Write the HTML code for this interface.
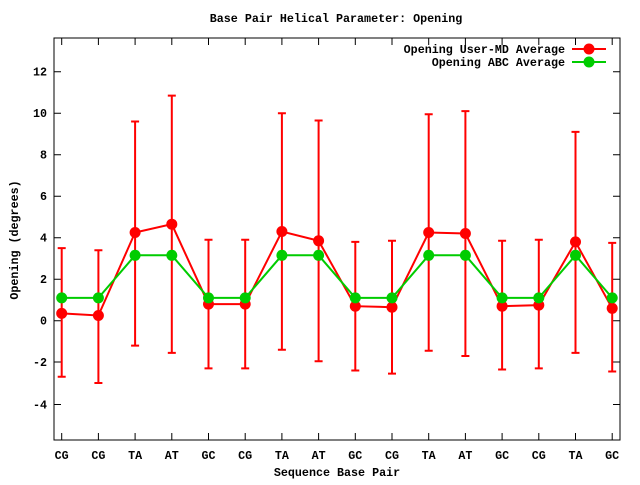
<!DOCTYPE html>
<html><head><meta charset="utf-8"><style>
body{margin:0;background:#fff}
svg text{font-family:"Liberation Mono",monospace;font-weight:bold;font-size:11.7px;fill:#000}
</style></head><body>
<svg width="640" height="480" xmlns="http://www.w3.org/2000/svg">
<rect width="640" height="480" fill="#fff"/>
<text x="336" y="22" text-anchor="middle">Base Pair Helical Parameter: Opening</text>
<rect x="54" y="38" width="566" height="402" fill="none" stroke="#000" stroke-width="1"/>
<g stroke="#000" stroke-width="1">
<path d="M54 404.5h7M54 362h7M54 320.7h7M54 279.2h7M54 237.7h7M54 196.2h7M54 154.7h7M54 113.2h7M54 71.7h7"/>
<path d="M620 404.5h-7M620 362h-7M620 320.7h-7M620 279.2h-7M620 237.7h-7M620 196.2h-7M620 154.7h-7M620 113.2h-7M620 71.7h-7"/>
<path d="M61.7 440v-7M98.4 440v-7M135.1 440v-7M171.8 440v-7M208.5 440v-7M245.2 440v-7M281.9 440v-7M318.6 440v-7M355.3 440v-7M392 440v-7M428.7 440v-7M465.4 440v-7M502.1 440v-7M538.8 440v-7M575.5 440v-7M612.2 440v-7"/>
<path d="M61.7 38v7M98.4 38v7M135.1 38v7M171.8 38v7M208.5 38v7M245.2 38v7M281.9 38v7M318.6 38v7M355.3 38v7M392 38v7M428.7 38v7M465.4 38v7M502.1 38v7M538.8 38v7M575.5 38v7M612.2 38v7"/>
</g>
<g text-anchor="end">
<text x="47" y="408.5">-4</text><text x="47" y="366">-2</text><text x="47" y="324.7">0</text><text x="47" y="283.2">2</text><text x="47" y="241.7">4</text><text x="47" y="200.2">6</text><text x="47" y="158.7">8</text><text x="47" y="117.2">10</text><text x="47" y="75.7">12</text>
</g>
<g text-anchor="middle">
<text x="61.7" y="459">CG</text><text x="98.4" y="459">CG</text><text x="135.1" y="459">TA</text><text x="171.8" y="459">AT</text><text x="208.5" y="459">GC</text><text x="245.2" y="459">CG</text><text x="281.9" y="459">TA</text><text x="318.6" y="459">AT</text><text x="355.3" y="459">GC</text><text x="392" y="459">CG</text><text x="428.7" y="459">TA</text><text x="465.4" y="459">AT</text><text x="502.1" y="459">GC</text><text x="538.8" y="459">CG</text><text x="575.5" y="459">TA</text><text x="612.2" y="459">GC</text>
</g>
<text x="337" y="476" text-anchor="middle">Sequence Base Pair</text>
<text transform="translate(18,240) rotate(-90)" text-anchor="middle">Opening (degrees)</text>
<g stroke="#f00" stroke-width="2" fill="none">
<path d="M61.7 248.1V376.7M57.7 248.1h8M57.7 376.7h8
M98.4 250.2V383M94.4 250.2h8M94.4 383h8
M135.1 121.5V345.6M131.1 121.5h8M131.1 345.6h8
M171.8 95.6V352.9M167.8 95.6h8M167.8 352.9h8
M208.5 239.8V368.4M204.5 239.8h8M204.5 368.4h8
M245.2 239.8V368.4M241.2 239.8h8M241.2 368.4h8
M281.9 113.2V349.8M277.9 113.2h8M277.9 349.8h8
M318.6 120.5V361.2M314.6 120.5h8M314.6 361.2h8
M355.3 241.9V370.5M351.3 241.9h8M351.3 370.5h8
M392 240.8V373.6M388 240.8h8M388 373.6h8
M428.7 114.2V350.8M424.7 114.2h8M424.7 350.8h8
M465.4 111.1V356M461.4 111.1h8M461.4 356h8
M502.1 240.8V369.5M498.1 240.8h8M498.1 369.5h8
M538.8 239.8V368.4M534.8 239.8h8M534.8 368.4h8
M575.5 131.9V352.9M571.5 131.9h8M571.5 352.9h8
M612.2 242.9V371.5M608.2 242.9h8M608.2 371.5h8"/>
<polyline points="61.7,313.4 98.4,315.5 135.1,232.5 171.8,224.2 208.5,304.1 245.2,304.1 281.9,231.5 318.6,240.8 355.3,306.2 392,307.2 428.7,232.5 465.4,233.5 502.1,306.2 538.8,305.1 575.5,241.9 612.2,308.3"/>
</g>
<g fill="#f00">
<circle cx="61.7" cy="313.4" r="5.5"/><circle cx="98.4" cy="315.5" r="5.5"/><circle cx="135.1" cy="232.5" r="5.5"/><circle cx="171.8" cy="224.2" r="5.5"/><circle cx="208.5" cy="304.1" r="5.5"/><circle cx="245.2" cy="304.1" r="5.5"/><circle cx="281.9" cy="231.5" r="5.5"/><circle cx="318.6" cy="240.8" r="5.5"/><circle cx="355.3" cy="306.2" r="5.5"/><circle cx="392" cy="307.2" r="5.5"/><circle cx="428.7" cy="232.5" r="5.5"/><circle cx="465.4" cy="233.5" r="5.5"/><circle cx="502.1" cy="306.2" r="5.5"/><circle cx="538.8" cy="305.1" r="5.5"/><circle cx="575.5" cy="241.9" r="5.5"/><circle cx="612.2" cy="308.3" r="5.5"/>
</g>
<polyline fill="none" stroke="#0c0" stroke-width="2" points="61.7,297.9 98.4,297.9 135.1,255.3 171.8,255.3 208.5,297.9 245.2,297.9 281.9,255.3 318.6,255.3 355.3,297.9 392,297.9 428.7,255.3 465.4,255.3 502.1,297.9 538.8,297.9 575.5,255.3 612.2,297.9"/>
<g fill="#0c0">
<circle cx="61.7" cy="297.9" r="5.5"/><circle cx="98.4" cy="297.9" r="5.5"/><circle cx="135.1" cy="255.3" r="5.5"/><circle cx="171.8" cy="255.3" r="5.5"/><circle cx="208.5" cy="297.9" r="5.5"/><circle cx="245.2" cy="297.9" r="5.5"/><circle cx="281.9" cy="255.3" r="5.5"/><circle cx="318.6" cy="255.3" r="5.5"/><circle cx="355.3" cy="297.9" r="5.5"/><circle cx="392" cy="297.9" r="5.5"/><circle cx="428.7" cy="255.3" r="5.5"/><circle cx="465.4" cy="255.3" r="5.5"/><circle cx="502.1" cy="297.9" r="5.5"/><circle cx="538.8" cy="297.9" r="5.5"/><circle cx="575.5" cy="255.3" r="5.5"/><circle cx="612.2" cy="297.9" r="5.5"/>
</g>
<g text-anchor="end">
<text x="565" y="53">Opening User-MD Average</text>
<text x="565" y="66">Opening ABC Average</text>
</g>
<path d="M572 49h34" stroke="#f00" stroke-width="2"/><circle cx="589" cy="49" r="5.5" fill="#f00"/>
<path d="M572 62h34" stroke="#0c0" stroke-width="2"/><circle cx="589" cy="62" r="5.5" fill="#0c0"/>
</svg>
</body></html>
